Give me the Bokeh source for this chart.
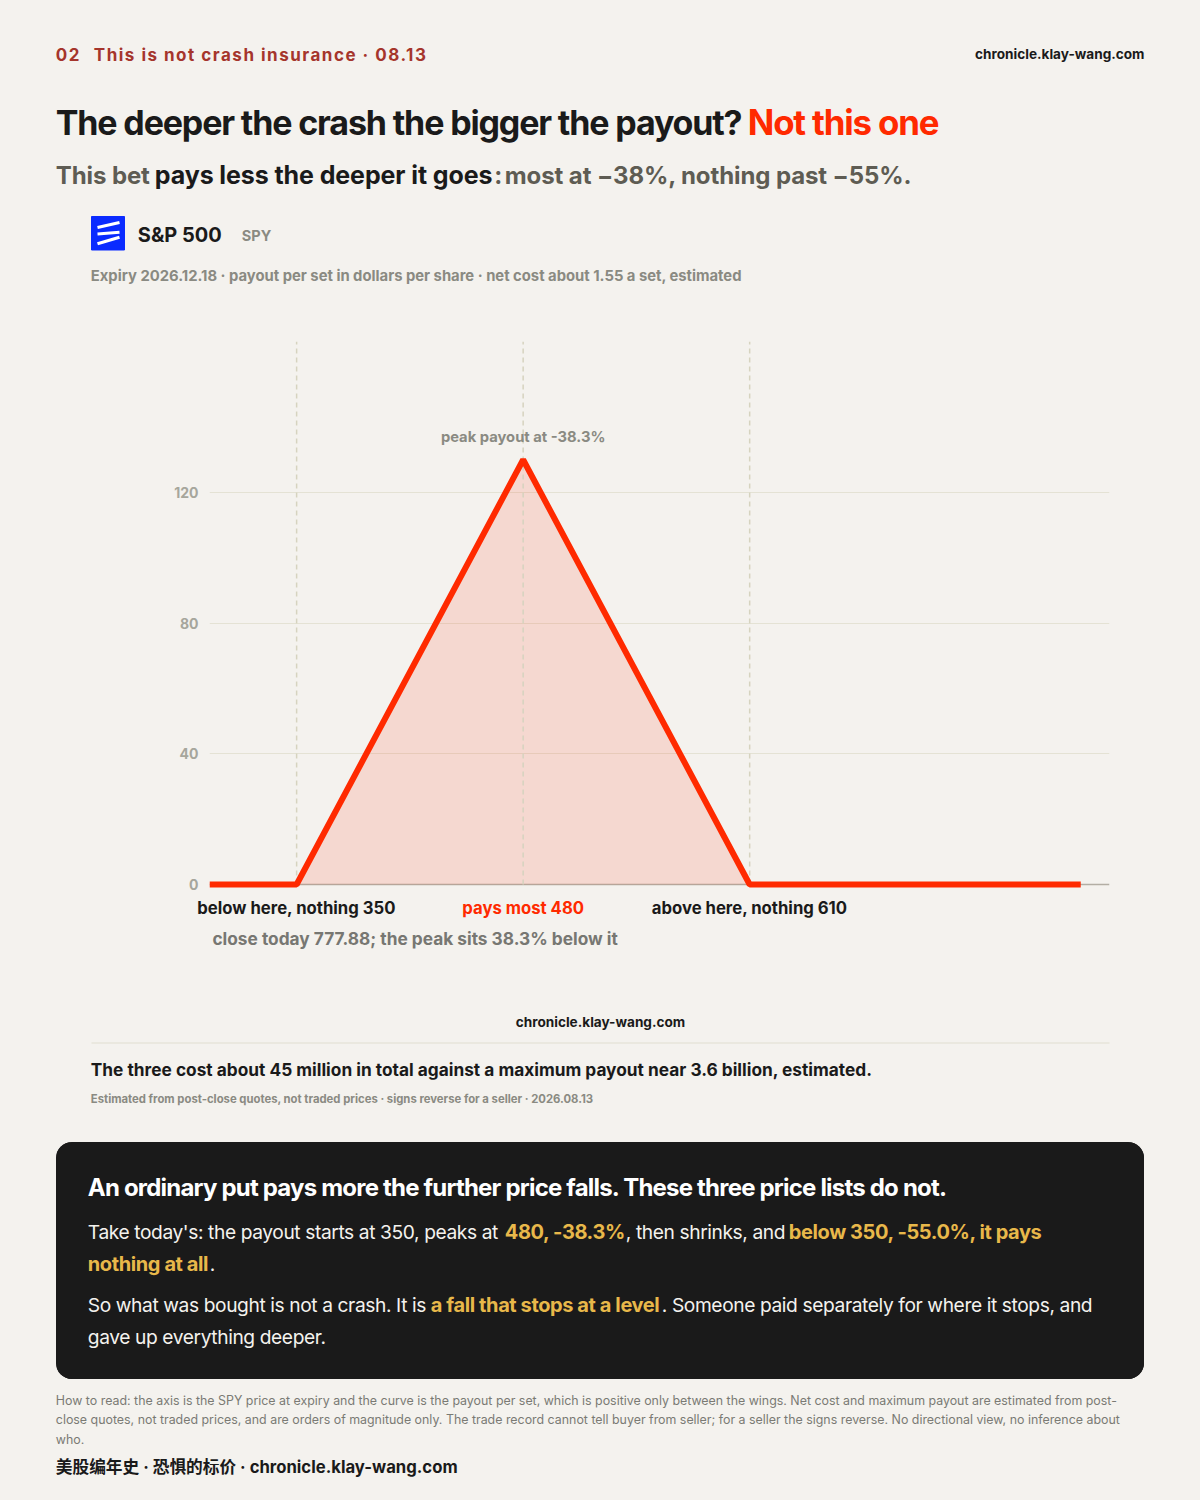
from bokeh.plotting import figure
from bokeh.models import Label, Range1d, Span, FixedTicker
from bokeh.layouts import column, row
from bokeh.embed import file_html
from bokeh.resources import INLINE

BG = "#f4f2ee"; INK = "#1a1a1a"; RED = "#ff2a00"; GOLD = "#e8b84a"; BRICK = "#a5352c"
GREY = "#8a8a82"; SUB = "#5e5c53"

prices = [300, 350, 480, 610, 800]
payout = [0, 0, 130, 0, 0]
wing_low, peak, wing_high = 350, 480, 610
close_note_at = 418.3
y_ticks = [0, 40, 80, 120]
x_start, x_end = 300, 816.5
y_start, y_end = -2.755, 166.2

FONT = "Inter"
BASE = 0.38

def band(x0, x1, y0, y1, spacing=None, bg=BG):
    """A text strip whose ranges are page pixels."""
    f = figure(width=x1 - x0, height=y1 - y0, output_backend="svg", toolbar_location=None,
               x_range=Range1d(x0, x1), y_range=Range1d(y1, y0), x_axis_location=None,
               y_axis_location=None, min_border=0, outline_line_color=None,
               background_fill_color=bg, border_fill_color=bg, tools="", frame_align=False)
    f.grid.visible = False
    if spacing:
        f.styles = {"letter-spacing": spacing}
    return f

def put(f, x, y, t, size, color=INK, bold=True, align="left", font=FONT):
    nudge = -0.7 if align == "left" else 0
    f.add_layout(Label(x=x + nudge, y=y - BASE * size, text=t, text_font=font, text_font_size=f"{size}px",
                       text_font_style="bold" if bold else "normal", text_color=color,
                       text_align=align, text_baseline="alphabetic"))

# Header
eyebrow = band(0, 800, 0, 90, "1.5px")
put(eyebrow, 56, 60.5, "02", 17, BRICK)
put(eyebrow, 94, 60.5, "This is not crash insurance · 08.13", 17, BRICK)
site = band(800, 1200, 0, 90)
put(site, 1144, 59, "chronicle.klay-wang.com", 13.6, INK, align="right")

title = band(0, 1200, 90, 150, "-1.15px")
put(title, 56, 135, "The deeper the crash the bigger the payout?", 34)
put(title, 748, 135, "Not this one", 34.8, RED)

sub = band(0, 1200, 150, 200, "-0.1px")
put(sub, 56, 184, "This bet", 24, SUB)
put(sub, 155, 184, "pays less the deeper it goes", 25)
put(sub, 494.5, 184, ":", 24, SUB)
put(sub, 505, 184, "most at −38%, nothing past −55%.", 24, SUB)

brand = band(0, 1200, 200, 335)
brand.quad(left=[91], right=[124], top=[216], bottom=[249.5], color="#0a2bff")
brand.multi_line(xs=[[97, 119], [97, 119], [97, 119]], ys=[[227, 222], [233.5, 231.8], [243.3, 236.7]],
                 line_color="white", line_width=3)
put(brand, 138, 242, "S&P 500", 20)
put(brand, 242, 241, "SPY", 14.5, GREY)
put(brand, 91, 281, "Expiry 2026.12.18 · payout per set in dollars per share · net cost about 1.55 a set, estimated", 14.8, GREY)

# Chart
FRAME_L, FRAME_R = 209, 1109
p = figure(width=1200, height=558, output_backend="svg", toolbar_location=None, tools="",
           x_range=Range1d(x_start, x_end), y_range=Range1d(y_start, y_end),
           x_axis_location=None, min_border_left=FRAME_L, min_border_right=1200 - FRAME_R,
           min_border_top=6, min_border_bottom=0, outline_line_color=None,
           background_fill_color=BG, border_fill_color=BG, frame_align=False)
p.xgrid.visible = False
p.ygrid.grid_line_color = "#e4e2d4"
p.ygrid.grid_line_width = 1.2
p.ygrid.ticker = FixedTicker(ticks=y_ticks[1:])
ax = p.yaxis[0]
ax.ticker = FixedTicker(ticks=y_ticks)
ax.axis_line_color = None
ax.major_tick_line_color = None
ax.minor_tick_line_color = None
ax.major_label_standoff = 5
ax.major_label_text_font = FONT
ax.major_label_text_font_size = "14px"
ax.major_label_text_font_style = "bold"
ax.major_label_text_color = "#a6a69c"

p.varea(x=prices[1:4], y1=[0, 0, 0], y2=payout[1:4], fill_color=RED, fill_alpha=0.125)
p.add_layout(Span(location=0, dimension="width", line_color="#b3aea4", line_width=1.5, level="underlay"))
for w in (wing_low, peak, wing_high):
    p.segment(x0=[w], x1=[w], y0=[0], y1=[y_end], line_color="#d6d3bf", line_width=1.5, line_dash="5 4")
p.line(prices, payout, line_color=RED, line_width=6, line_join="bevel")
p.add_layout(Label(x=peak, y=payout[2], y_offset=23, text="peak payout at -38.3%", text_font=FONT,
                   text_font_size="14.75px", text_font_style="bold", text_color=GREY,
                   text_align="center", text_baseline="alphabetic"))

def px(v):
    return FRAME_L + (v - x_start) * (FRAME_R - FRAME_L) / (x_end - x_start)

# Labels under the axis
under = band(0, 1200, 893, 950)
put(under, px(wing_low), 914, "below here, nothing 350", 16.7, INK, align="center")
put(under, px(peak), 914, "pays most 480", 16.7, RED, align="center")
put(under, px(wing_high), 914, "above here, nothing 610", 16.7, INK, align="center")
put(under, px(close_note_at) - 0.5, 945, "close today 777.88; the peak sits 38.3% below it", 17.3, "#777772", align="center")

# Notes under the chart
notes = band(0, 1200, 950, 1142)
put(notes, 600, 1027, "chronicle.klay-wang.com", 13.6, INK, align="center")
notes.segment(x0=[91], x1=[1109], y0=[1042.5], y1=[1042.5], line_color="#dfddd0", line_width=1.2)
put(notes, 91, 1076, "The three cost about 45 million in total against a maximum payout near 3.6 billion, estimated.", 17.3)
put(notes, 91, 1103, "Estimated from post-close quotes, not traded prices · signs reverse for a seller · 2026.08.13", 11.3, GREY)

# Dark panel: two strips with rounded outer corners, the second overlapping slightly
pt = band(56, 1144, 1142, 1210, bg=INK)
pt.margin = (0, 0, 0, 56)
pt.styles = {"letter-spacing": "-0.8px", "border-radius": "16px 16px 0 0", "overflow": "hidden",
             "background-color": INK}
put(pt, 88, 1196, "An ordinary put pays more the further price falls. These three price lists do not.", 24, "#ffffff")

pb = band(56, 1144, 1208, 1379, bg=INK)
pb.margin = (-2, 0, 0, 56)
pb.styles = {"letter-spacing": "-0.4px", "border-radius": "0 0 16px 16px", "overflow": "hidden",
             "background-color": INK}
W = "#f4f2ee"
put(pb, 88, 1239, "Take today's: the payout starts at 350, peaks at ", 19.2, W, bold=False)
put(pb, 505, 1239, "480, -38.3%", 20, GOLD)
put(pb, 626, 1239, ", then shrinks, and ", 19.2, W, bold=False)
put(pb, 789, 1239, "below 350, -55.0%, it pays", 20, GOLD)
put(pb, 88, 1271, "nothing at all", 20, GOLD)
put(pb, 210, 1271, ".", 19.2, W, bold=False)
put(pb, 88, 1312, "So what was bought is not a crash. It is ", 19.2, W, bold=False)
put(pb, 431, 1312, "a fall that stops at a level", 20, GOLD)
put(pb, 662, 1312, ". Someone paid separately for where it stops, and", 19.2, W, bold=False)
put(pb, 88, 1344, "gave up everything deeper.", 19.2, W, bold=False)

# Footer
foot = band(0, 1200, 1379, 1500)
put(foot, 56, 1405, "How to read: the axis is the SPY price at expiry and the curve is the payout per set, which is positive only between the wings. Net cost and maximum payout are estimated from post-", 12.4, "#7a7a74", bold=False)
put(foot, 56, 1424, "close quotes, not traded prices, and are orders of magnitude only. The trade record cannot tell buyer from seller; for a seller the signs reverse. No directional view, no inference about", 12.4, "#7a7a74", bold=False)
put(foot, 56, 1444, "who.", 12.4, "#7a7a74", bold=False)
put(foot, 56, 1473, "美股编年史 · 恐惧的标价 · chronicle.klay-wang.com", 16.7, INK, font="Inter, 'Noto Sans CJK SC'")

page = column(row(eyebrow, site, spacing=0), title, sub, brand, p, under, notes, pt, pb, foot, spacing=0)
html = file_html(page, INLINE)
html = html.replace("<head>", f"<head><style>html,body{{margin:0;background:{BG};}}</style>", 1)
open("out.html", "w").write(html)
